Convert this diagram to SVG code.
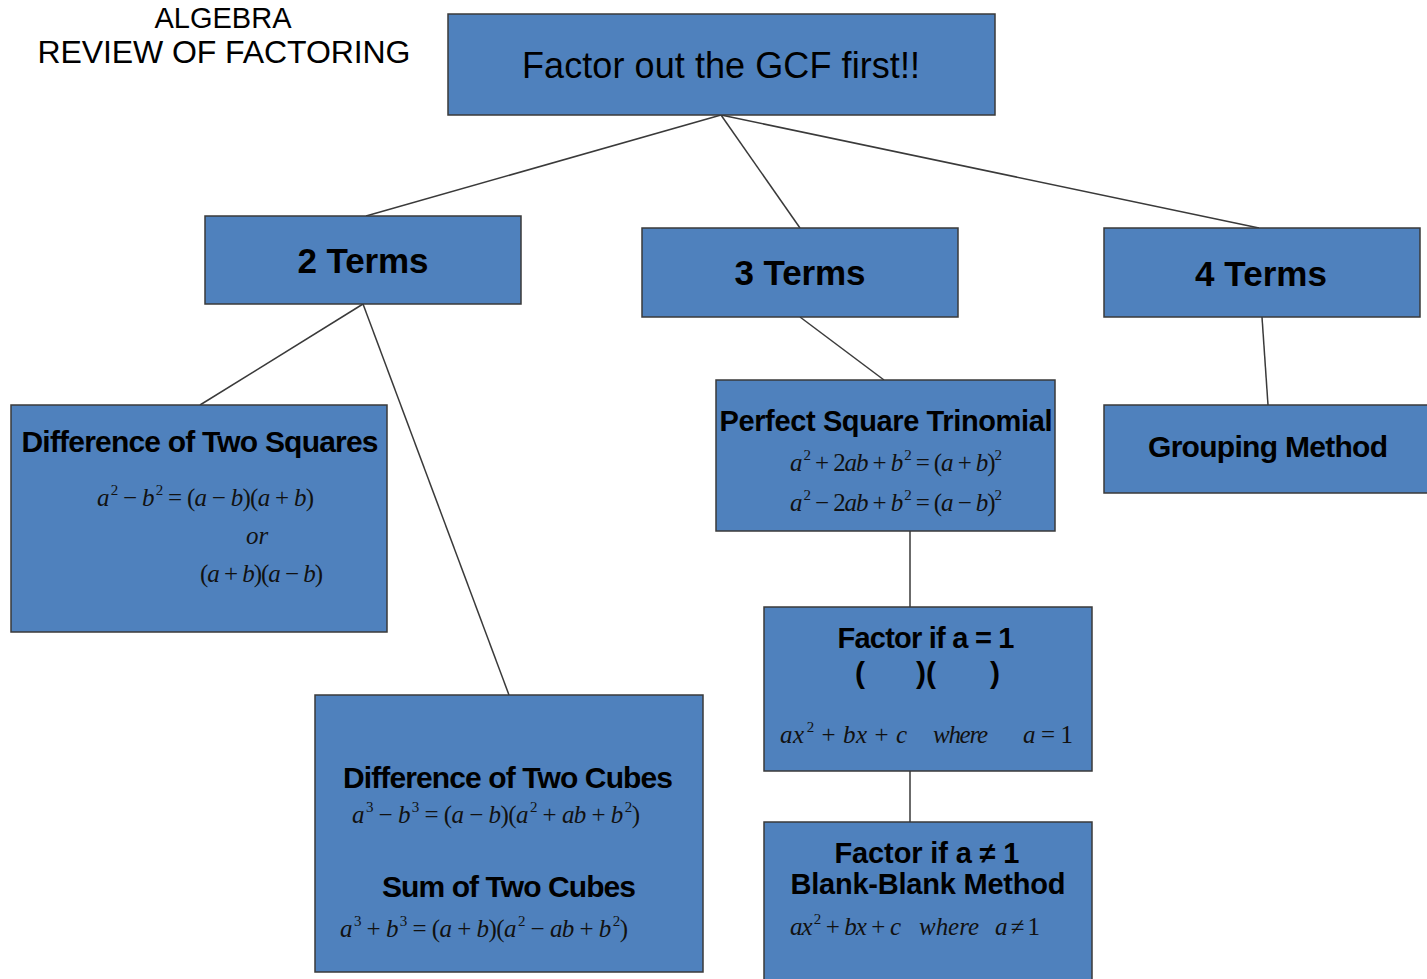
<svg xmlns="http://www.w3.org/2000/svg" width="1427" height="979" viewBox="0 0 1427 979">
<style>
.box{fill:#4F81BD;stroke:#3a3a3a;stroke-width:1.5}
.conn line{stroke:#3a3a3a;stroke-width:1.5}
.h{font-family:"Liberation Sans",Arial,sans-serif;fill:#000}
.b{font-family:"Liberation Sans",Arial,sans-serif;font-weight:bold;fill:#000;text-anchor:middle}
.m{font-family:"Liberation Serif","Times New Roman",serif;font-size:25px;fill:#111}
.v{font-style:italic}
.s{font-size:15px}
</style>
<rect width="1427" height="979" fill="#ffffff"/>
<g id="title">
<text class="h" x="223" y="28" font-size="29" text-anchor="middle">ALGEBRA</text>
<text class="h" x="224" y="63" font-size="32" text-anchor="middle" textLength="373">REVIEW OF FACTORING</text>
</g>
<g id="connectors" class="conn">
<line x1="721" y1="115" x2="366" y2="216"/>
<line x1="721" y1="115" x2="800" y2="228"/>
<line x1="721" y1="115" x2="1259" y2="228"/>
<line x1="363" y1="304" x2="200" y2="405"/>
<line x1="363" y1="304" x2="509" y2="695"/>
<line x1="800" y1="317" x2="884" y2="380"/>
<line x1="1262" y1="317" x2="1268" y2="405"/>
<line x1="910" y1="531" x2="910" y2="607"/>
<line x1="910" y1="771" x2="910" y2="822"/>
</g>
<g id="gcf">
<rect class="box" x="448" y="14" width="547" height="101"/>
<text class="h" x="721" y="78" font-size="36" text-anchor="middle" textLength="398">Factor out the GCF first!!</text>
</g>
<g id="two-terms">
<rect class="box" x="205" y="216" width="316" height="88"/>
<text class="b" x="363" y="273" font-size="35" textLength="131">2 Terms</text>
</g>
<g id="three-terms">
<rect class="box" x="642" y="228" width="316" height="89"/>
<text class="b" x="800" y="285" font-size="35" textLength="131">3 Terms</text>
</g>
<g id="four-terms">
<rect class="box" x="1104" y="228" width="316" height="89"/>
<text class="b" x="1261" y="286" font-size="35" textLength="132">4 Terms</text>
</g>
<g id="grouping">
<rect class="box" x="1104" y="405" width="330" height="88"/>
<text class="b" x="1268" y="457" font-size="30" textLength="240">Grouping Method</text>
</g>
<g id="diff-squares">
<rect class="box" x="11" y="405" width="376" height="227"/>
<text class="b" x="200" y="452" font-size="30" textLength="357">Difference of Two Squares</text>
<text class="m" x="97" y="506" textLength="217"><tspan class="v">a</tspan><tspan class="s" dx="2" dy="-11">2</tspan><tspan dy="11"> − </tspan><tspan class="v">b</tspan><tspan class="s" dx="2" dy="-11">2</tspan><tspan dy="11"> = (</tspan><tspan class="v">a</tspan> − <tspan class="v">b</tspan>)(<tspan class="v">a</tspan> + <tspan class="v">b</tspan>)</text>
<text class="m v" x="257" y="544" text-anchor="middle">or</text>
<text class="m" x="200" y="582" textLength="123">(<tspan class="v">a</tspan> + <tspan class="v">b</tspan>)(<tspan class="v">a</tspan> − <tspan class="v">b</tspan>)</text>
</g>
<g id="cubes">
<rect class="box" x="315" y="695" width="388" height="277"/>
<text class="b" x="508" y="788" font-size="30" textLength="330">Difference of Two Cubes</text>
<text class="m" x="352" y="823" textLength="288"><tspan class="v">a</tspan><tspan class="s" dx="2" dy="-11">3</tspan><tspan dy="11"> − </tspan><tspan class="v">b</tspan><tspan class="s" dx="2" dy="-11">3</tspan><tspan dy="11"> = (</tspan><tspan class="v">a</tspan> − <tspan class="v">b</tspan>)(<tspan class="v">a</tspan><tspan class="s" dx="2" dy="-11">2</tspan><tspan dy="11"> + </tspan><tspan class="v">ab</tspan> + <tspan class="v">b</tspan><tspan class="s" dx="2" dy="-11">2</tspan><tspan dy="11">)</tspan></text>
<text class="b" x="509" y="897" font-size="30" textLength="254">Sum of Two Cubes</text>
<text class="m" x="340" y="937" textLength="288"><tspan class="v">a</tspan><tspan class="s" dx="2" dy="-11">3</tspan><tspan dy="11"> + </tspan><tspan class="v">b</tspan><tspan class="s" dx="2" dy="-11">3</tspan><tspan dy="11"> = (</tspan><tspan class="v">a</tspan> + <tspan class="v">b</tspan>)(<tspan class="v">a</tspan><tspan class="s" dx="2" dy="-11">2</tspan><tspan dy="11"> − </tspan><tspan class="v">ab</tspan> + <tspan class="v">b</tspan><tspan class="s" dx="2" dy="-11">2</tspan><tspan dy="11">)</tspan></text>
</g>
<g id="perfect-square">
<rect class="box" x="716" y="380" width="339" height="151"/>
<text class="b" x="886" y="431" font-size="29" textLength="333">Perfect Square Trinomial</text>
<text class="m" x="790" y="471" textLength="212"><tspan class="v">a</tspan><tspan class="s" dx="2" dy="-11">2</tspan><tspan dy="11"> + 2</tspan><tspan class="v">ab</tspan> + <tspan class="v">b</tspan><tspan class="s" dx="2" dy="-11">2</tspan><tspan dy="11"> = (</tspan><tspan class="v">a</tspan> + <tspan class="v">b</tspan>)<tspan class="s" dy="-11">2</tspan></text>
<text class="m" x="790" y="511" textLength="212"><tspan class="v">a</tspan><tspan class="s" dx="2" dy="-11">2</tspan><tspan dy="11"> − 2</tspan><tspan class="v">ab</tspan> + <tspan class="v">b</tspan><tspan class="s" dx="2" dy="-11">2</tspan><tspan dy="11"> = (</tspan><tspan class="v">a</tspan> − <tspan class="v">b</tspan>)<tspan class="s" dy="-11">2</tspan></text>
</g>
<g id="factor-a1">
<rect class="box" x="764" y="607" width="328" height="164"/>
<text class="b" x="926" y="648" font-size="29" textLength="177">Factor if a = 1</text>
<text class="b" font-size="30" y="683"><tspan x="860">(</tspan><tspan x="926">)(</tspan><tspan x="995">)</tspan></text>
<text class="m" x="780" y="743" textLength="127"><tspan class="v">ax</tspan><tspan class="s" dx="2" dy="-11">2</tspan><tspan dy="11"> + </tspan><tspan class="v">bx</tspan> + <tspan class="v">c</tspan></text>
<text class="m v" x="933" y="743" textLength="55">where</text>
<text class="m" x="1023" y="743" textLength="50"><tspan class="v">a</tspan> = 1</text>
</g>
<g id="factor-an1">
<rect class="box" x="764" y="822" width="328" height="165"/>
<text class="b" x="927" y="863" font-size="29" textLength="185">Factor if a ≠ 1</text>
<text class="b" x="928" y="894" font-size="29" textLength="275">Blank-Blank Method</text>
<text class="m" x="790" y="935" textLength="111"><tspan class="v">ax</tspan><tspan class="s" dx="2" dy="-11">2</tspan><tspan dy="11"> + </tspan><tspan class="v">bx</tspan> + <tspan class="v">c</tspan></text>
<text class="m v" x="919" y="935" textLength="60">where</text>
<text class="m" x="995" y="935" textLength="45"><tspan class="v">a</tspan> ≠ 1</text>
</g>
</svg>
